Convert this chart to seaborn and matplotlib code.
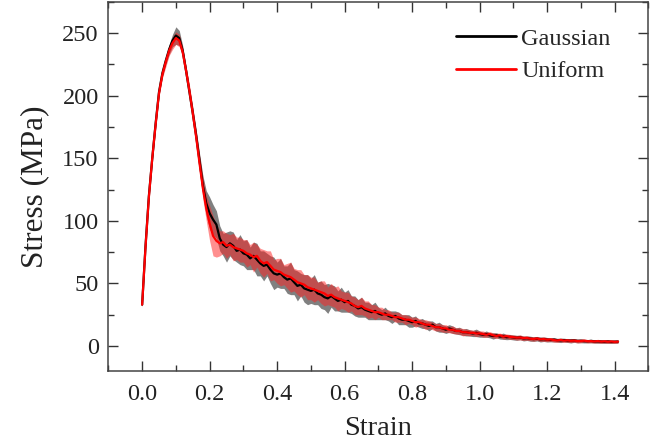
import numpy as np
import pandas as pd
import matplotlib
matplotlib.use("Agg")
import matplotlib.pyplot as plt
import seaborn as sns
from matplotlib.ticker import MultipleLocator

strain = [round(i * 0.01, 2) for i in range(142)]

gauss_mean = [
    33, 80, 120, 150, 178, 203, 218, 228, 237, 244,
    248, 246, 236, 220, 203, 186, 168, 148, 128, 114,
    106, 101, 97, 86, 81, 79, 82, 80, 76, 77,
    74, 73, 70, 72, 69, 66, 64, 65, 61, 58,
    57, 58, 55, 53, 54, 51, 48, 49, 46, 45,
    44, 45, 42, 41, 39, 38, 40, 38, 36, 37,
    35, 36, 33, 32, 30, 31, 29, 28, 27, 28,
    26, 25, 26, 24, 23, 24, 22, 21, 21, 20,
    19, 20, 18, 18, 17, 16, 17, 15, 15, 14,
    13, 14, 13, 12, 12, 11, 11, 10.5, 10, 10.5,
    9.5, 9, 9.5, 8.5, 8, 8.5, 7.5, 7.8, 7, 7.2,
    6.8, 6.5, 6.8, 6, 6.2, 5.8, 5.5, 5.8, 5.2, 5.4,
    5, 4.8, 5, 4.6, 4.5, 4.7, 4.3, 4.2, 4.4, 4,
    4.1, 3.9, 3.8, 4, 3.6, 3.7, 3.5, 3.4, 3.6, 3.3,
    3.4, 3.5,
]
gauss_spread = [
    2, 2, 2, 2, 3, 3, 3, 3, 4, 5,
    7, 6, 4, 4, 4, 5, 5, 6, 8, 10,
    13, 12, 11, 10, 9, 12, 10, 11, 9, 12,
    10, 12, 9, 11, 13, 10, 12, 9, 11, 13,
    10, 12, 9, 11, 13, 10, 12, 9, 11, 12,
    10, 12, 9, 11, 10, 12, 9, 10, 8, 10,
    8, 9, 7, 8, 7, 8, 6, 7, 6, 7,
    5, 4, 5, 4, 5, 4, 5, 4, 4, 5,
    4, 4, 3, 4, 3, 4, 3, 3, 4, 3,
    3, 3, 3, 2.5, 3, 2.5, 3, 2.5, 2.5, 3,
    2.5, 2, 2.5, 2, 2.5, 2, 2, 2.5, 2, 2,
    2, 2, 1.8, 2, 1.8, 2, 1.8, 1.8, 2, 1.8,
    1.8, 1.5, 1.8, 1.5, 1.8, 1.5, 1.5, 1.8, 1.5, 1.5,
    1.5, 1.5, 1.3, 1.5, 1.3, 1.5, 1.3, 1.3, 1.5, 1.3,
    1.3, 1.3,
]
unif_mean = [
    33, 79, 119, 150, 177, 202, 217, 227, 236, 242,
    246, 244, 235, 220, 204, 186, 167, 146, 126, 110,
    98, 88, 84, 82, 83, 80, 81, 79, 78, 77,
    76, 74, 73, 71, 72, 68, 66, 67, 64, 61,
    60, 59, 57, 56, 55, 53, 51, 50, 49, 47,
    46, 45, 44, 43, 42, 40, 41, 39, 38, 37,
    36, 35, 34, 32, 31, 32, 30, 29, 28, 27,
    27, 26, 25, 25, 24, 23, 23, 22, 21, 21,
    20, 19, 19, 18, 17, 17, 16, 15, 15, 14,
    14, 13, 13, 12, 12, 11, 11, 10.5, 10.5, 10,
    10, 9.5, 9, 9.5, 8.5, 8, 8.5, 7.5, 7.8, 7.2,
    7, 6.6, 6.8, 6.2, 6.4, 5.8, 5.6, 6, 5.3, 5.5,
    5, 5.2, 4.7, 4.4, 4.8, 4.3, 4.5, 4.1, 4.3, 3.9,
    4, 4.2, 3.8, 3.9, 3.6, 3.9, 3.5, 3.7, 3.4, 3.6,
    3.3, 3.5,
]
unif_spread = [
    2, 2, 2, 3, 3, 3, 3, 4, 4, 5,
    5, 5, 4, 4, 5, 5, 6, 7, 9, 10,
    14, 16, 13, 10, 9, 10, 8, 11, 9, 10,
    9, 11, 8, 12, 9, 10, 11, 9, 12, 8,
    10, 11, 8, 10, 12, 9, 10, 11, 8, 10,
    9, 10, 7, 9, 10, 7, 9, 8, 10, 7,
    7, 8, 6, 7, 6, 7, 6, 7, 5, 6,
    4, 5, 4, 4, 3, 4, 4, 3, 4, 3,
    3, 4, 3, 3, 4, 3, 3, 3, 3, 3,
    3, 2.5, 3, 2.5, 2.5, 3, 2.5, 2.5, 2, 2.5,
    2, 2.5, 2, 2, 2, 2, 1.8, 2, 1.8, 2,
    1.8, 1.8, 2, 1.8, 1.8, 1.6, 1.8, 1.6, 1.6, 1.8,
    1.6, 1.5, 1.6, 1.5, 1.5, 1.4, 1.5, 1.4, 1.4, 1.5,
    1.4, 1.3, 1.4, 1.3, 1.3, 1.4, 1.3, 1.3, 1.2, 1.3,
    1.2, 1.2,
]

sns.set_theme(style="ticks")
plt.rcParams["font.family"] = ["Liberation Serif", "DejaVu Serif"]

fig = plt.figure(figsize=(6.65, 4.44), dpi=100)
ax = fig.add_axes([0.163, 0.1644, 0.812, 0.8316])

x = np.array(strain)
gm, gs = np.array(gauss_mean), np.array(gauss_spread)
um, us = np.array(unif_mean), np.array(unif_spread)

ax.fill_between(x, gm - gs, gm + gs, color="#6a6a6a", alpha=0.85, linewidth=0)
sns.lineplot(x=x, y=gm, ax=ax, color="black", linewidth=1.6, label="Gaussian")
ax.fill_between(x, um - us, um + us, color="#ff2020", alpha=0.5, linewidth=0)
sns.lineplot(x=x, y=um, ax=ax, color="#ff0000", linewidth=1.6, label="Uniform")

ax.set_xlim(-0.1, 1.5)
ax.set_ylim(-20, 275)
ax.xaxis.set_minor_locator(MultipleLocator(0.1))
ax.yaxis.set_major_locator(MultipleLocator(50))
ax.yaxis.set_minor_locator(MultipleLocator(25))
ax.set_xticks([0.0, 0.2, 0.4, 0.6, 0.8, 1.0, 1.2, 1.4])
ax.set_xticklabels(["0.0", "0.2", "0.4", "0.6", "0.8", "1.0", "1.2", "1.4"])

ax.tick_params(which="both", direction="in", top=True, right=True,
               colors="#333333", labelcolor="#222222")
ax.tick_params(which="major", length=7, width=1.0, labelsize=17.5)
ax.tick_params(axis="x", which="major", pad=9)
ax.tick_params(axis="y", which="major", pad=7)
ax.tick_params(which="minor", length=4, width=1.0)
for s in ax.spines.values():
    s.set_linewidth(1.1)
    s.set_color("#444444")

ax.set_xlabel("Strain", fontsize=20.5, labelpad=8, color="#222222")
ax.set_ylabel("Stress (MPa)", fontsize=22.5, labelpad=9, color="#222222")

leg = ax.legend(loc="upper right", frameon=False, fontsize=17.5,
                handlelength=2.5, handletextpad=0.2, labelspacing=0.42,
                borderaxespad=0.6, bbox_to_anchor=(0.975, 0.995))
for h in leg.get_lines():
    h.set_linewidth(2.0)

fig.savefig("out.png", dpi=100)
